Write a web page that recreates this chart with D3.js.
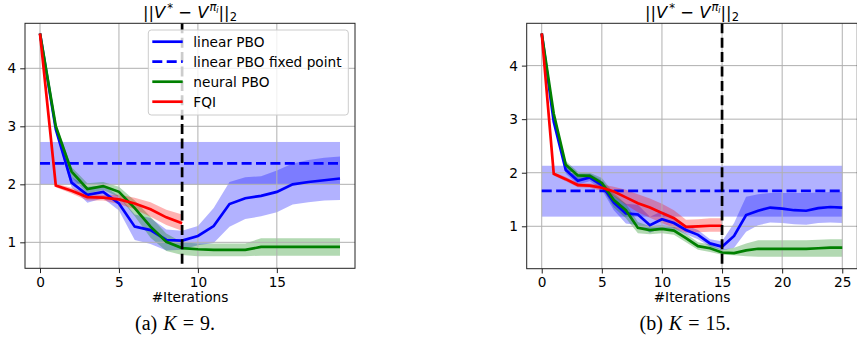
<!DOCTYPE html>
<html>
<head>
<meta charset="utf-8">
<script src="https://cdn.jsdelivr.net/npm/d3@7"></script>
<style>
  body { margin: 0; background: #fff; }
  svg { display: block; font-family: "DejaVu Sans", sans-serif; }
</style>
</head>
<body>
<div id="fig"></div>
<script>
// ---- panel (a), K = 9 ----
var itersA = [0, 1, 2, 3, 4, 5, 6, 7, 8, 9, 10, 11, 12, 13, 14, 15, 16, 17, 18, 19]
var linA_mean = [4.6, 2.95, 2.03, 1.82, 1.87, 1.67, 1.27, 1.21, 1.04, 1.03, 1.11, 1.28, 1.66, 1.76, 1.80, 1.87, 2.00, 2.04, 2.07, 2.10]
var linA_lo = [4.6, 2.90, 1.95, 1.68, 1.76, 1.55, 1.04, 0.97, 0.86, 0.87, 0.95, 0.99, 1.27, 1.40, 1.45, 1.52, 1.65, 1.69, 1.72, 1.73]
var linA_hi = [4.6, 3.00, 2.12, 1.96, 1.98, 1.80, 1.48, 1.42, 1.22, 1.20, 1.28, 1.59, 2.04, 2.12, 2.14, 2.24, 2.36, 2.42, 2.46, 2.48]
var fixA = [2.36, 2.00, 2.73] // mean, lo, hi
var neuA_mean = [4.6, 3.0, 2.22, 1.92, 1.97, 1.87, 1.59, 1.27, 1.01, 0.90, 0.88, 0.87, 0.87, 0.87, 0.92, 0.92, 0.92, 0.92, 0.92, 0.92]
var neuA_lo = [4.6, 2.95, 2.12, 1.84, 1.90, 1.78, 1.45, 1.08, 0.85, 0.78, 0.76, 0.76, 0.76, 0.76, 0.77, 0.77, 0.77, 0.77, 0.77, 0.77]
var neuA_hi = [4.6, 3.05, 2.30, 2.02, 2.04, 1.96, 1.72, 1.44, 1.15, 1.00, 0.98, 0.98, 0.98, 0.98, 1.07, 1.07, 1.07, 1.07, 1.07, 1.07]
var fqiA_mean = [4.6, 1.98, 1.89, 1.78, 1.77, 1.74, 1.67, 1.57, 1.43, 1.33]
var fqiA_lo = [4.6, 1.95, 1.84, 1.72, 1.72, 1.66, 1.57, 1.44, 1.30, 1.20]
var fqiA_hi = [4.6, 2.01, 1.94, 1.84, 1.82, 1.82, 1.77, 1.69, 1.56, 1.48]

// ---- panel (b), K = 15 ----
var itersB = [0, 1, 2, 3, 4, 5, 6, 7, 8, 9, 10, 11, 12, 13, 14, 15, 16, 17, 18, 19, 20, 21, 22, 23, 24, 25]
var linB_mean = [4.6, 2.95, 2.05, 1.85, 1.91, 1.77, 1.44, 1.24, 1.22, 1.02, 1.13, 1.06, 0.93, 0.84, 0.68, 0.62, 0.82, 1.21, 1.29, 1.35, 1.33, 1.30, 1.29, 1.34, 1.36, 1.35]
var linB_lo = [4.6, 2.90, 1.98, 1.78, 1.84, 1.68, 1.30, 1.05, 1.02, 0.88, 0.97, 0.95, 0.85, 0.76, 0.62, 0.55, 0.60, 0.90, 1.02, 1.07, 1.06, 1.04, 1.03, 1.06, 1.07, 1.06]
var linB_hi = [4.6, 3.00, 2.12, 1.92, 1.98, 1.86, 1.58, 1.42, 1.40, 1.18, 1.28, 1.18, 1.02, 0.93, 0.76, 0.72, 1.06, 1.55, 1.60, 1.62, 1.62, 1.62, 1.62, 1.63, 1.64, 1.64]
var fixB = [1.66, 1.18, 2.13]
var neuB_mean = [4.6, 3.1, 2.15, 1.95, 1.94, 1.81, 1.49, 1.30, 0.97, 0.93, 0.95, 0.92, 0.78, 0.63, 0.59, 0.51, 0.50, 0.55, 0.58, 0.58, 0.58, 0.58, 0.58, 0.59, 0.60, 0.60]
var neuB_lo = [4.6, 3.05, 2.08, 1.88, 1.88, 1.72, 1.35, 1.15, 0.87, 0.85, 0.87, 0.84, 0.70, 0.56, 0.52, 0.47, 0.46, 0.44, 0.43, 0.43, 0.43, 0.43, 0.43, 0.43, 0.43, 0.43]
var neuB_hi = [4.6, 3.15, 2.22, 2.02, 2.00, 1.90, 1.62, 1.42, 1.08, 1.00, 1.02, 0.99, 0.86, 0.70, 0.66, 0.56, 0.60, 0.68, 0.74, 0.74, 0.74, 0.74, 0.74, 0.75, 0.76, 0.76]
var fqiB_mean = [4.6, 1.98, 1.88, 1.77, 1.76, 1.72, 1.65, 1.54, 1.43, 1.35, 1.25, 1.15, 0.99, 1.00, 1.01, 1.01]
var fqiB_lo = [4.6, 1.95, 1.84, 1.73, 1.72, 1.66, 1.56, 1.40, 1.26, 1.16, 1.06, 0.97, 0.88, 0.89, 0.90, 0.90]
var fqiB_hi = [4.6, 2.01, 1.92, 1.81, 1.80, 1.78, 1.74, 1.68, 1.60, 1.52, 1.42, 1.30, 1.12, 1.13, 1.15, 1.15]

var legendNames = ["linear PBO", "linear PBO fixed point", "neural PBO", "FQI"]
var yTicks = [1, 2, 3, 4]

const BLUE = "#0000ff", GREEN = "#008000", RED = "#ff0000"
const svg = d3.select("#fig").append("svg").attr("width", 857).attr("height", 345)

function drawPanel(p) {
  const x = d3.scaleLinear().domain(p.xDom).range([p.left, p.right])
  const y = d3.scaleLinear().domain(p.yDom).range([p.bottom, p.top])
  const g = svg.append("g")
  const band = d3.area().x((d, i) => x(p.iters[i])).y0(d => y(d[0])).y1(d => y(d[1]))
  const line = d3.line().x((d, i) => x(p.iters[i])).y(d => y(d))
  const zip = (lo, hi) => lo.map((v, i) => [v, hi[i]])
  const last = p.iters[p.iters.length - 1]

  // bands
  g.append("path").attr("d", band(zip(p.lin[1], p.lin[2]))).attr("fill", BLUE).attr("fill-opacity", 0.3)
  g.append("rect").attr("x", x(0)).attr("width", x(last) - x(0))
    .attr("y", y(p.fix[2])).attr("height", y(p.fix[1]) - y(p.fix[2]))
    .attr("fill", BLUE).attr("fill-opacity", 0.3)
  g.append("path").attr("d", band(zip(p.neu[1], p.neu[2]))).attr("fill", GREEN).attr("fill-opacity", 0.3)
  g.append("path").attr("d", band(zip(p.fqi[1], p.fqi[2]))).attr("fill", RED).attr("fill-opacity", 0.3)

  // grid
  g.append("g").selectAll("line").data(p.xTicks).join("line")
    .attr("x1", d => x(d)).attr("x2", d => x(d)).attr("y1", p.top).attr("y2", p.bottom)
    .attr("stroke", "#b0b0b0").attr("stroke-width", 1)
  g.append("g").selectAll("line").data(yTicks).join("line")
    .attr("y1", d => y(d)).attr("y2", d => y(d)).attr("x1", p.left).attr("x2", p.right)
    .attr("stroke", "#b0b0b0").attr("stroke-width", 1)

  // lines
  const lw = 2.7
  g.append("path").attr("d", line(p.lin[0])).attr("fill", "none").attr("stroke", BLUE).attr("stroke-width", lw)
  g.append("line").attr("x1", x(0)).attr("x2", x(last)).attr("y1", y(p.fix[0])).attr("y2", y(p.fix[0]))
    .attr("stroke", BLUE).attr("stroke-width", lw).attr("stroke-dasharray", "10,4.4")
  g.append("path").attr("d", line(p.neu[0])).attr("fill", "none").attr("stroke", GREEN).attr("stroke-width", lw)
  g.append("path").attr("d", line(p.fqi[0])).attr("fill", "none").attr("stroke", RED).attr("stroke-width", lw)
  g.append("line").attr("x1", x(p.k)).attr("x2", x(p.k)).attr("y1", p.top).attr("y2", p.bottom)
    .attr("stroke", "#000").attr("stroke-width", lw).attr("stroke-dasharray", "10,4.4")

  // axes
  const ax = d3.axisBottom(x).tickValues(p.xTicks).tickSize(4.8).tickPadding(4).tickFormat(d3.format("d"))
  const ay = d3.axisLeft(y).tickValues(yTicks).tickSize(4.8).tickPadding(4).tickFormat(d3.format("d"))
  const gx = g.append("g").attr("transform", `translate(0,${p.bottom})`).call(ax)
  const gy = g.append("g").attr("transform", `translate(${p.left},0)`).call(ay)
  gx.select(".domain").remove(); gy.select(".domain").remove()
  g.selectAll(".tick line").attr("stroke", "#222").attr("stroke-width", 1)
  g.selectAll(".tick text").attr("fill", "#000").style("font-size", "13.7px").style("font-family", "DejaVu Sans")
  g.append("rect").attr("x", p.left).attr("y", p.top).attr("width", p.right - p.left).attr("height", p.bottom - p.top)
    .attr("fill", "none").attr("stroke", "#222").attr("stroke-width", 1)

  const cx = (p.left + p.right) / 2
  g.append("text").attr("x", cx).attr("y", 302).attr("text-anchor", "middle")
    .style("font-size", "13.7px").text("#Iterations")

  // title  ||V* - V^{pi_i}||_2
  const t = g.append("text").attr("x", cx).attr("y", 18).attr("text-anchor", "middle").style("font-size", "16.4px")
  t.append("tspan").text("||")
  t.append("tspan").style("font-style", "italic").text("V")
  t.append("tspan").attr("dy", -6).attr("dx", 2).style("font-size", "11.5px").text("*")
  t.append("tspan").attr("dy", 6).text(" \u2212 ")
  t.append("tspan").style("font-style", "italic").text("V")
  t.append("tspan").attr("dy", -7).attr("dx", 1).style("font-size", "11.5px").style("font-style", "italic").text("\u03c0")
  t.append("tspan").attr("dy", 2).style("font-size", "8px").style("font-style", "italic").text("i")
  t.append("tspan").attr("dy", 5).text("||")
  t.append("tspan").attr("dy", 3).style("font-size", "11.5px").text("2")

  // caption
  const c = svg.append("text").attr("x", p.capX).attr("y", 330).attr("text-anchor", "middle")
    .style("font-family", "Liberation Serif, serif").style("font-size", "20px")
  c.append("tspan").text(p.capLabel)
  c.append("tspan").attr("dx", 6).style("font-style", "italic").text("K")
  c.append("tspan").attr("dx", 6).text("=")
  c.append("tspan").attr("dx", 6).text(p.k + ".")

  if (p.legend) {
    const lg = g.append("g")
    lg.append("rect").attr("x", 148.3).attr("y", 30).attr("width", 200).attr("height", 85).attr("rx", 3)
      .attr("fill", "#fff").attr("fill-opacity", 0.8).attr("stroke", "#cccccc").attr("stroke-width", 1)
    const cols = [BLUE, BLUE, GREEN, RED]
    legendNames.forEach((name, i) => {
      const yy = 41.7 + i * 20
      lg.append("line").attr("x1", 152.3).attr("x2", 182.7).attr("y1", yy).attr("y2", yy)
        .attr("stroke", cols[i]).attr("stroke-width", lw).attr("stroke-dasharray", i == 1 ? "10,4.4" : null)
      lg.append("text").attr("x", 193.3).attr("y", yy + 5).style("font-size", "13.7px").text(name)
    })
  }
}

drawPanel({
  iters: itersA, left: 25, right: 355, top: 23.3, bottom: 268.3,
  xDom: [-0.95, 19.95], yDom: [0.552, 4.776], xTicks: [0, 5, 10, 15], k: 9,
  lin: [linA_mean, linA_lo, linA_hi], fix: fixA, neu: [neuA_mean, neuA_lo, neuA_hi], fqi: [fqiA_mean, fqiA_lo, fqiA_hi],
  legend: true, capX: 175, capLabel: "(a)"
})
drawPanel({
  iters: itersB, left: 526.7, right: 857.3, top: 23.3, bottom: 268.7,
  xDom: [-1.25, 26.25], yDom: [0.208, 4.79], xTicks: [0, 5, 10, 15, 20, 25], k: 15,
  lin: [linB_mean, linB_lo, linB_hi], fix: fixB, neu: [neuB_mean, neuB_lo, neuB_hi], fqi: [fqiB_mean, fqiB_lo, fqiB_hi],
  legend: false, capX: 685, capLabel: "(b)"
})
</script>
</body>
</html>
